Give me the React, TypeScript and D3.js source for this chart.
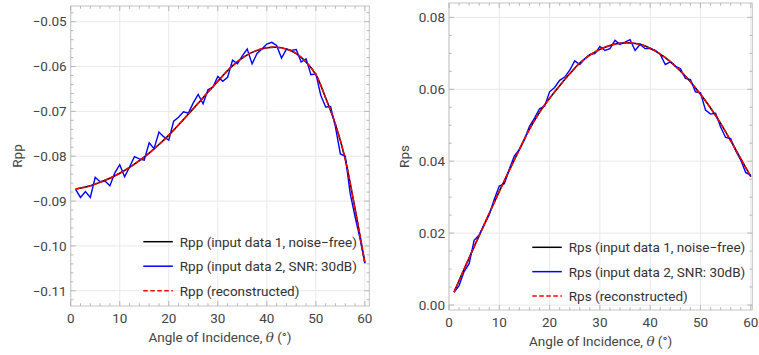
import React from "react";
import * as d3 from "d3";

// ---------- data ----------
const angles = d3.range(1, 61); // 1..60 degrees (integer sampling of the input data)

const rppCleanAngles = [1, 2, 4, 6, 8, 10, 12, 14, 16, 18, 20, 22, 24, 26, 28, 30, 32, 34, 36, 38, 40, 42, 44, 46, 48, 50, 52, 54, 56, 58, 59, 60];
const rppClean = [-0.0873, -0.0871, -0.0866, -0.0858, -0.0849, -0.0838, -0.0825, -0.081, -0.0793, -0.0774, -0.0753, -0.073, -0.0706, -0.0682, -0.0657, -0.0633, -0.0609, -0.0589, -0.0574, -0.0564, -0.0558, -0.0557, -0.0561, -0.0571, -0.059, -0.0618, -0.067, -0.0729, -0.0807, -0.0918, -0.0977, -0.1038];
const rppNoisy = [
  -0.0874, -0.0892, -0.0879, -0.0892, -0.0847, -0.0857, -0.0855, -0.0866, -0.0837, -0.0819,
  -0.0846, -0.0824, -0.0801, -0.0806, -0.0809, -0.077, -0.0783, -0.0746, -0.0757, -0.0764,
  -0.0722, -0.0713, -0.0701, -0.0704, -0.0681, -0.0662, -0.0683, -0.0652, -0.0646, -0.0622,
  -0.0633, -0.0624, -0.0586, -0.0594, -0.0576, -0.0561, -0.0594, -0.0571, -0.0561, -0.055,
  -0.0546, -0.0553, -0.0581, -0.0561, -0.0564, -0.0562, -0.059, -0.0583, -0.0618, -0.0616,
  -0.0664, -0.069, -0.0689, -0.0735, -0.0795, -0.08, -0.0883, -0.0935, -0.0983, -0.1039,
];

const rpsCleanAngles = [1, 2, 4, 6, 8, 10, 12, 14, 16, 18, 20, 22, 24, 26, 28, 30, 32, 34, 36, 38, 40, 42, 44, 46, 48, 50, 52, 54, 56, 58, 60];
const rpsClean = [0.0036, 0.0068, 0.0131, 0.0193, 0.0255, 0.0316, 0.0375, 0.0433, 0.0489, 0.0536, 0.0575, 0.061, 0.0643, 0.0673, 0.0695, 0.0711, 0.0722, 0.0728, 0.0729, 0.0725, 0.0714, 0.0698, 0.0677, 0.0651, 0.0621, 0.0586, 0.0548, 0.0505, 0.0457, 0.0407, 0.0357];
const rpsNoisy = [
  0.0035, 0.0054, 0.0093, 0.0115, 0.018, 0.0195, 0.0223, 0.0251, 0.0294, 0.0331,
  0.0337, 0.0378, 0.0415, 0.0433, 0.046, 0.0497, 0.052, 0.0546, 0.0553, 0.0593,
  0.0605, 0.0625, 0.0634, 0.0653, 0.0679, 0.0669, 0.0685, 0.0697, 0.0699, 0.0719,
  0.0708, 0.0713, 0.0736, 0.0725, 0.0731, 0.0738, 0.0708, 0.0725, 0.0713, 0.0713,
  0.0708, 0.0697, 0.0669, 0.0676, 0.0664, 0.0658, 0.063, 0.0627, 0.0593, 0.059,
  0.0542, 0.0531, 0.0533, 0.0495, 0.0466, 0.0463, 0.0429, 0.0403, 0.0368, 0.0361,
];

const xTicks = [0, 10, 20, 30, 40, 50, 60];
const rppTicks = [-0.05, -0.06, -0.07, -0.08, -0.09, -0.1, -0.11];
const rpsTicks = [0.0, 0.02, 0.04, 0.06, 0.08];

const rppLegend = ["Rpp (input data 1, noise\u2212free)", "Rpp (input data 2, SNR: 30dB)", "Rpp (reconstructed)"];
const rpsLegend = ["Rps (input data 1, noise\u2212free)", "Rps (input data 2, SNR: 30dB)", "Rps (reconstructed)"];

// ---------- styling ----------
const FONT = "Roboto, 'Open Sans', sans-serif";
const FS = 13.5;
const TEXT = "#444";
const GRID = "#e9e9e9";
const FRAME = "#c4c4c4";
const TICK = "#aaa";

const fmtNum = (v: number) => {
  const s = Math.abs(v).toFixed(2);
  return (v < 0 ? "\u2212" : "") + s;
};

type PanelProps = {
  xDomain: [number, number];
  xRange: [number, number];
  yDomain: [number, number];
  yRange: [number, number];
  yTicks: number[];
  yMinorStep: number;
  yLabel: string;
  yLabelX: number;
  cleanX: number[];
  cleanY: number[];
  noisy: number[];
  legend: string[];
  legendX: number;
  legendY: number;
  legendGap: number;
};

function Panel(p: PanelProps) {
  const x = d3.scaleLinear().domain(p.xDomain).range(p.xRange);
  const y = d3.scaleLinear().domain(p.yDomain).range(p.yRange);
  const [x0, x1] = p.xRange;
  const [yb, yt] = p.yRange;

  const cleanPts = p.cleanX.map((a, i) => [a, p.cleanY[i]] as [number, number]);
  const noisyPts = angles.map((a, i) => [a, p.noisy[i]] as [number, number]);

  const smooth = d3
    .line<[number, number]>()
    .x((d) => x(d[0]))
    .y((d) => y(d[1]))
    .curve(d3.curveCatmullRom.alpha(0.5));
  const straight = d3
    .line<[number, number]>()
    .x((d) => x(d[0]))
    .y((d) => y(d[1]));

  const xMinor = d3.range(0, p.xDomain[1] + 1e-9, 2);
  const yLo = Math.min(...p.yDomain);
  const yHi = Math.max(...p.yDomain);
  const yMinor = d3
    .range(Math.ceil(yLo / p.yMinorStep - 1e-6), Math.floor(yHi / p.yMinorStep + 1e-6) + 1)
    .map((k) => k * p.yMinorStep);
  const isMajorY = (v: number) => p.yTicks.some((t) => Math.abs(t - v) < 1e-9);
  const isMajorX = (v: number) => xTicks.some((t) => Math.abs(t - v) < 1e-9);

  const legendColors = ["#000", "#0000ff", "#ff0000"];
  const legendDash = [undefined, undefined, "4.5,2.5"];

  return (
    <g fontFamily={FONT} fontSize={FS}>
      {/* grid */}
      {xTicks.map((t) => (
        <line key={"gx" + t} x1={x(t)} x2={x(t)} y1={yb} y2={yt} stroke={GRID} strokeWidth={1} />
      ))}
      {p.yTicks.map((t) => (
        <line key={"gy" + t} x1={x0} x2={x1} y1={y(t)} y2={y(t)} stroke={GRID} strokeWidth={1} />
      ))}
      {/* frame */}
      <rect x={x0} y={yt} width={x1 - x0} height={yb - yt} fill="none" stroke={FRAME} strokeWidth={1} />
      {/* ticks */}
      {xMinor.map((t) => {
        const len = isMajorX(t) ? 5 : 2.8;
        return (
          <g key={"tx" + t}>
            <line x1={x(t)} x2={x(t)} y1={yb} y2={yb - len} stroke={TICK} strokeWidth={0.8} />
            <line x1={x(t)} x2={x(t)} y1={yt} y2={yt + len} stroke={TICK} strokeWidth={0.8} />
          </g>
        );
      })}
      {yMinor.map((t) => {
        const len = isMajorY(t) ? 5 : 2.8;
        return (
          <g key={"ty" + t}>
            <line x1={x0} x2={x0 + len} y1={y(t)} y2={y(t)} stroke={TICK} strokeWidth={0.8} />
            <line x1={x1} x2={x1 - len} y1={y(t)} y2={y(t)} stroke={TICK} strokeWidth={0.8} />
          </g>
        );
      })}
      {/* tick labels */}
      {xTicks.map((t) => (
        <text key={"lx" + t} x={x(t)} y={yb + 16.7} textAnchor="middle" fill={TEXT}>
          {t}
        </text>
      ))}
      {p.yTicks.map((t) => (
        <text key={"ly" + t} x={x0 - 4} y={y(t) + 4.8} textAnchor="end" fill={TEXT}>
          {fmtNum(t)}
        </text>
      ))}
      {/* axis titles */}
      <text x={(x0 + x1) / 2} y={yb + 35.7} textAnchor="middle" fill={TEXT}>
        Angle of Incidence, <tspan fontFamily="'DejaVu Serif', serif" fontStyle="italic">θ</tspan> (°)
      </text>
      <text
        transform={`translate(${p.yLabelX},${(yb + yt) / 2}) rotate(-90)`}
        textAnchor="middle"
        fill={TEXT}
      >
        {p.yLabel}
      </text>
      {/* series */}
      <path d={smooth(cleanPts) || ""} fill="none" stroke="#000" strokeWidth={1.5} />
      <path d={straight(noisyPts) || ""} fill="none" stroke="#0000ff" strokeWidth={1.4} strokeLinejoin="miter" />
      <path d={smooth(cleanPts) || ""} fill="none" stroke="#ff0000" strokeWidth={1.6} strokeDasharray="4.5,1.5" />
      {/* legend */}
      {p.legend.map((lab, i) => {
        const ly = p.legendY + i * p.legendGap;
        return (
          <g key={"lg" + i}>
            <line
              x1={p.legendX}
              x2={p.legendX + 29.5}
              y1={ly}
              y2={ly}
              stroke={legendColors[i]}
              strokeWidth={1.5}
              strokeDasharray={legendDash[i]}
            />
            <text x={p.legendX + 36.5} y={ly + 5} fill="#333">
              {lab}
            </text>
          </g>
        );
      })}
    </g>
  );
}

export default function App() {
  return (
    <svg
      width={759}
      height={355}
      viewBox="0 0 759 355"
      style={{ position: "absolute", left: 0, top: 0, display: "block", background: "#fff" }}
    >
      <rect width={759} height={355} fill="#fff" />
      <Panel
        xDomain={[0, 60.9]}
        xRange={[70.7, 369.3]}
        yDomain={[-0.1134, -0.0465]}
        yRange={[306, 6]}
        yTicks={rppTicks}
        yMinorStep={0.002}
        yLabel="Rpp"
        yLabelX={21.5}
        cleanX={rppCleanAngles}
        cleanY={rppClean}
        noisy={rppNoisy}
        legend={rppLegend}
        legendX={143.3}
        legendY={241.7}
        legendGap={24.5}
      />
      <Panel
        xDomain={[0, 60.3]}
        xRange={[449, 752.3]}
        yDomain={[-0.00139, 0.084]}
        yRange={[310, 3]}
        yTicks={rpsTicks}
        yMinorStep={0.005}
        yLabel="Rps"
        yLabelX={408.5}
        cleanX={rpsCleanAngles}
        cleanY={rpsClean}
        noisy={rpsNoisy}
        legend={rpsLegend}
        legendX={532.3}
        legendY={247.3}
        legendGap={24.35}
      />
    </svg>
  );
}
